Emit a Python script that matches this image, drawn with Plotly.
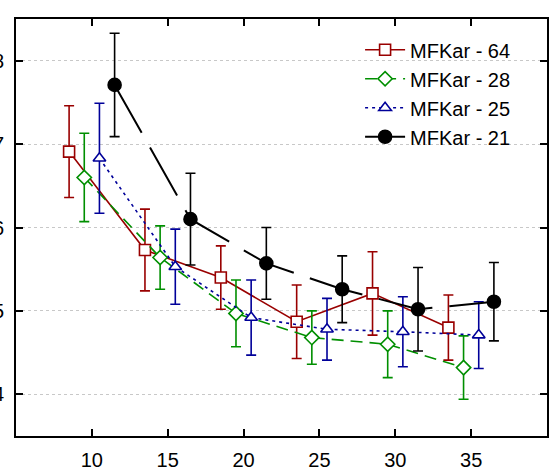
import plotly.graph_objects as go

# ---- data ----
x_base = [10, 15, 20, 25, 30, 35]
series_names = ["MFKar - 64", "MFKar - 28", "MFKar - 25", "MFKar - 21"]
dodge = [-1.5, -0.5, 0.5, 1.5]

y_64 = [6.91, 5.73, 5.40, 4.87, 5.21, 4.80]
e_64 = [0.55, 0.49, 0.38, 0.44, 0.50, 0.39]

y_28 = [6.60, 5.64, 4.97, 4.68, 4.60, 4.32]
e_28 = [0.53, 0.38, 0.40, 0.32, 0.40, 0.38]

y_25 = [6.83, 5.53, 4.92, 4.78, 4.75, 4.71]
e_25 = [0.66, 0.45, 0.45, 0.37, 0.42, 0.40]

y_21 = [7.71, 6.10, 5.57, 5.26, 5.02, 5.11]
e_21 = [0.62, 0.55, 0.43, 0.40, 0.50, 0.47]

x_ticks = [10, 15, 20, 25, 30, 35]
y_ticks = [4, 5, 6, 7, 8]

# ---- styles ----
styles = [
    dict(color="#990000", symbol="square", size=11, dash="solid", filled=False),
    dict(color="#008f00", symbol="diamond", size=11, dash="12px,7px", filled=False),
    dict(color="#000099", symbol="triangle-up", size=11, dash="3px,4px", filled=False),
    dict(color="#000000", symbol="circle", size=13, dash="55px,17px", filled=True),
]
ys = [y_64, y_28, y_25, y_21]
es = [e_64, e_28, e_25, e_21]

fig = go.Figure()
for name, off, y, e, st in zip(series_names, dodge, ys, es, styles):
    fig.add_trace(go.Scatter(
        x=[xb + off for xb in x_base],
        y=y,
        name=name,
        mode="lines+markers",
        line=dict(color=st["color"], width=2 if st["filled"] else 1.6, dash=st["dash"]),
        marker=dict(
            symbol=st["symbol"], size=st["size"],
            color=st["color"] if st["filled"] else "white",
            line=dict(color=st["color"], width=1.6),
        ),
        error_y=dict(type="data", array=e, visible=True,
                     color=st["color"], thickness=1.6, width=5),
    ))

font_family = "Arial, Liberation Sans, sans-serif"

fig.update_layout(
    width=550, height=471,
    margin=dict(l=16, r=3, t=19, b=35),
    paper_bgcolor="white", plot_bgcolor="white",
    font=dict(family=font_family, size=20, color="#000000"),
    showlegend=True,
    legend=dict(
        x=0.648, y=0.973, xanchor="left", yanchor="top",
        bgcolor="rgba(0,0,0,0)", borderwidth=0,
        font=dict(family=font_family, size=20, color="#000000"),
        itemwidth=40,
    ),
    xaxis=dict(
        range=[5, 40], tickvals=x_ticks, ticks="inside", ticklen=7, tickwidth=2,
        tickcolor="black", showline=True, linecolor="black", linewidth=2,
        mirror="ticks", showgrid=False, zeroline=False,
        tickfont=dict(size=20), ticklabelstandoff=5,
    ),
    yaxis=dict(
        range=[3.5, 8.5], tickvals=y_ticks, ticks="inside", ticklen=7, tickwidth=2,
        tickcolor="black", showline=True, linecolor="black", linewidth=2,
        mirror="ticks", showgrid=True, gridcolor="#c8c8c8", griddash="dot",
        gridwidth=1, zeroline=False, tickfont=dict(size=20),
        ticklabelstandoff=6, automargin=False,
    ),
)
fig.update_xaxes(automargin=False)

fig.write_html("out.html")
